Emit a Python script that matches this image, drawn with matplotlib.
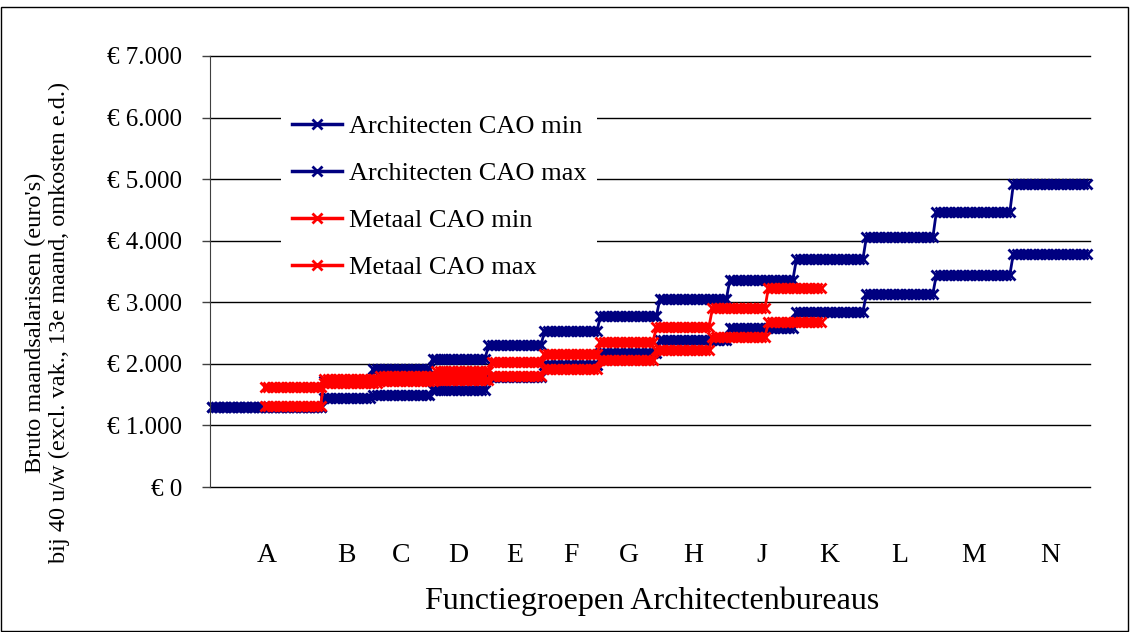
import numpy as np
import matplotlib
matplotlib.use("Agg")
import matplotlib.pyplot as plt
from matplotlib.patches import Rectangle

plt.rcParams["font.family"] = ["Liberation Serif", "DejaVu Serif"]

# function groups (Architectenbureaus)
groups = ["A", "B", "C", "D", "E", "F", "G", "H", "J", "K", "L", "M", "N"]

# number of salary steps (points) per group
arch_steps = [32, 14, 17, 16, 16, 16, 17, 20, 19, 20, 20, 22, 22]
arch_min = [1300, 1450, 1490, 1580, 1790, 1980, 2170, 2380, 2590, 2840, 3140, 3450, 3790]
arch_max = [1300, 1720, 1920, 2080, 2300, 2530, 2780, 3060, 3370, 3700, 4060, 4470, 4920]

metaal_start = 15
metaal_steps = [17, 16, 16, 16, 15, 16, 16, 16, 16, 16]
metaal_min = [1320, 1690, 1720, 1740, 1800, 1920, 2060, 2220, 2430, 2680]
metaal_max = [1620, 1750, 1800, 1880, 2030, 2160, 2360, 2600, 2900, 3240]

yticks = [0, 1000, 2000, 3000, 4000, 5000, 6000, 7000]
ytick_labels = ["€ 0", "€ 1.000", "€ 2.000", "€ 3.000", "€ 4.000",
                "€ 5.000", "€ 6.000", "€ 7.000"]


def expand(start, steps, levels):
    x = start + np.arange(sum(steps))
    y = np.repeat(levels, steps)
    return x, y


xa, ya_min = expand(0, arch_steps, arch_min)
_, ya_max = expand(0, arch_steps, arch_max)
xm, ym_min = expand(metaal_start, metaal_steps, metaal_min)
_, ym_max = expand(metaal_start, metaal_steps, metaal_max)

navy = "#000080"
red = "#FF0000"

fig = plt.figure(figsize=(11.3, 6.32), dpi=100)
ax = fig.add_axes([0.1858, 0.2294, 0.9646 - 0.1858, 0.9114 - 0.2294])

# horizontal gridlines
for yt in yticks:
    ax.axhline(yt, color="black", linewidth=1, clip_on=False, zorder=0.5)

style = dict(marker="x", markersize=7.5, markeredgewidth=2, linewidth=2, clip_on=False)
ax.plot(xa, ya_min, color=navy, label="Architecten CAO min", **style)
ax.plot(xa, ya_max, color=navy, label="Architecten CAO max", **style)
ax.plot(xm, ym_min, color=red, label="Metaal CAO min", **style)
ax.plot(xm, ym_max, color=red, label="Metaal CAO max", **style)

ax.set_xlim(-0.6, 250.9)
ax.set_ylim(0, 7000)
ax.set_yticks(yticks)
ax.set_yticklabels(ytick_labels, fontsize=18)
ax.tick_params(axis="y", length=6, width=1, pad=14, color="#404040")

# category labels at group centres
edges = np.concatenate([[0], np.cumsum(arch_steps)])
centres = (edges[:-1] + edges[1:]) / 2 - 0.5
ax.set_xticks(centres)
ax.set_xticklabels(groups, fontsize=20)
ax.tick_params(axis="x", length=0, pad=40)

for s in ["top", "right", "bottom"]:
    ax.spines[s].set_visible(False)
ax.spines["left"].set_color("#404040")

fig.text(0.577, 0.049, "Functiegroepen Architectenbureaus", fontsize=23,
         ha="center", va="center")
fig.text(0.042, 0.49, "Bruto maandsalarissen (euro's)\nbij 40 u/w (excl. vak., 13e maand, omkosten e.d.)",
         fontsize=17.5, rotation=90, ha="center", va="center", linespacing=1.2)

leg = ax.legend(loc="upper left", bbox_to_anchor=(0.249, 0.835),
                bbox_transform=fig.transFigure, fontsize=19, frameon=True,
                fancybox=False, edgecolor="none", facecolor="white", framealpha=1,
                handlelength=1.9, handletextpad=0.25, labelspacing=0.89,
                borderpad=0.4, borderaxespad=0)
for line in leg.get_lines():
    line.set_linewidth(2.5)

fig.patches.append(Rectangle((0.001, 0.002), 0.997, 0.987, transform=fig.transFigure,
                             fill=False, edgecolor="black", linewidth=1))

fig.savefig("out.png", dpi=100)
